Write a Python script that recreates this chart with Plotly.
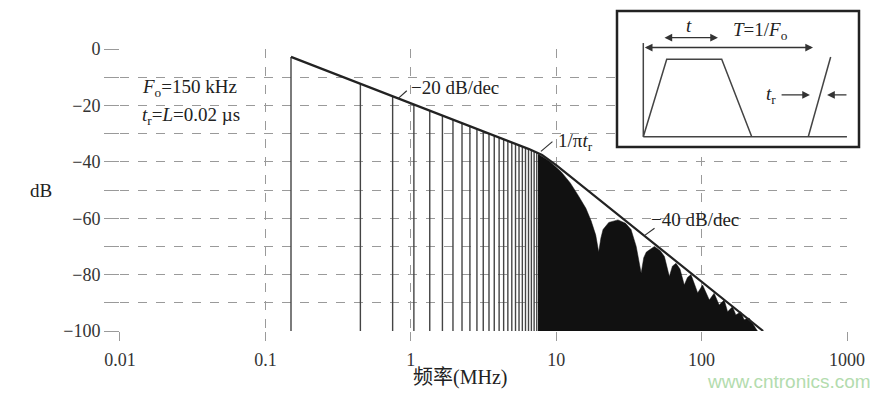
import math
import plotly.graph_objects as go

# ---------------- data ----------------
# discrete odd harmonics of the 150 kHz trapezoid (MHz) and their levels (dB)
harmonic_freq_mhz = [0.15, 0.45, 0.75, 1.05, 1.35, 1.65, 1.95, 2.25, 2.55, 2.85,
                     3.15, 3.45, 3.75, 4.05, 4.35, 4.65, 4.95, 5.25, 5.55, 5.85,
                     6.15, 6.45, 6.75, 7.05, 7.35]
harmonic_level_db = [-2.8, -12.3, -16.8, -19.7, -21.9, -23.6, -25.1, -26.3, -27.4, -28.4,
                     -29.2, -30.0, -30.8, -31.4, -32.0, -32.6, -33.2, -33.7, -34.2, -34.6,
                     -35.1, -35.5, -35.9, -36.2, -36.6]

# upper edge of the dense (unresolved, black) harmonic region above ~7.5 MHz
dense_freq_mhz = [7.5, 9.0, 10.8, 12.5, 14.2, 16.0, 17.4, 18.7, 19.6, 20.3, 21.0, 23.0,
                  26.6, 30.0, 32.7, 35.5, 38.4, 40.0, 41.7, 47.4, 52.0, 55.5, 60.0, 63.0,
                  66.7, 71.0, 76.0, 80.0, 84.5, 94.0, 101.6, 113.0, 122.0, 132.0, 143.0,
                  151.0, 163.0, 172.0, 186.0, 196.0, 212.0, 231.0, 242.0]
dense_level_db = [-37.2, -39.8, -43.5, -47.5, -52.0, -56.5, -61.0, -66.0, -72.0, -67.0, -64.0, -61.5,
                  -60.6, -61.8, -64.0, -70.0, -79.5, -74.0, -72.0, -70.0, -71.5, -73.6, -80.7, -77.0,
                  -76.0, -78.0, -83.7, -81.0, -80.0, -86.5, -83.7, -89.0, -86.6, -90.8, -89.0,
                  -93.2, -91.4, -94.3, -93.2, -96.0, -95.4, -98.5, -100.0]

# -20 dB/dec and -40 dB/dec bounding envelope
bound_freq_mhz = [0.15, 6.5, 8.0, 10.0, 265.0]
bound_level_db = [-2.8, -35.5, -37.6, -41.2, -100.0]
floor_db = -100

# axis ticks
x_tick_vals = [0.01, 0.1, 1, 10, 100, 1000]
x_tick_text = ["0.01", "0.1", "1", "10", "100", "1000"]
y_tick_vals = [0, -10, -20, -30, -40, -50, -60, -70, -80, -90, -100]
y_tick_text = ["0", "", "\u221220", "", "\u221240", "", "\u221260", "", "\u221280", "", "\u2212100"]

# inset waveform (time in periods T, level normalised)
inset_pulse_t = [0.0, 0.138, 0.462, 0.639]
inset_pulse_v = [0.0, 1.0, 1.0, 0.0]
inset_edge_t = [0.972, 1.104]
inset_edge_v = [0.0, 1.03]
inset_base_t = [0.0, 1.2]
inset_base_v = [0.0, 0.0]
inset_mark_t = [0.0, 0.0]
inset_mark_v = [0.0, 1.21]

SERIF = "Liberation Serif, Noto Sans CJK SC, serif"
INK = "#222222"
GRID = "#9a9a9a"

fig = go.Figure()

# vertical harmonic lines
lx, ly = [], []
for f, h in zip(harmonic_freq_mhz, harmonic_level_db):
    lx += [f, f, None]
    ly += [floor_db, h, None]
fig.add_trace(go.Scatter(x=lx, y=ly, mode="lines",
                         line=dict(color="#444444", width=1.4),
                         hoverinfo="skip", showlegend=False))

# dense black region
fig.add_trace(go.Scatter(x=dense_freq_mhz + [dense_freq_mhz[0]],
                         y=dense_level_db + [floor_db],
                         mode="lines", fill="toself", fillcolor="#111111",
                         line=dict(color="#111111", width=0.5),
                         hoverinfo="skip", showlegend=False))

# bounding envelope line
fig.add_trace(go.Scatter(x=bound_freq_mhz, y=bound_level_db, mode="lines",
                         line=dict(color=INK, width=2.2),
                         hoverinfo="skip", showlegend=False))

# ---------------- inset (second subplot) ----------------
inset_x_range = [-0.155, 1.271]
inset_y_range = [-0.133, 1.624]
fig.add_trace(go.Scatter(x=[inset_x_range[0], inset_x_range[1], inset_x_range[1], inset_x_range[0], inset_x_range[0]],
                         y=[inset_y_range[0], inset_y_range[0], inset_y_range[1], inset_y_range[1], inset_y_range[0]],
                         mode="lines", fill="toself", fillcolor="white",
                         line=dict(color="white", width=0),
                         xaxis="x2", yaxis="y2", hoverinfo="skip", showlegend=False))
for tx, ty in [(inset_base_t, inset_base_v), (inset_mark_t, inset_mark_v),
               (inset_pulse_t, inset_pulse_v), (inset_edge_t, inset_edge_v)]:
    fig.add_trace(go.Scatter(x=tx, y=ty, mode="lines",
                             line=dict(color="#444444", width=1.5),
                             xaxis="x2", yaxis="y2", hoverinfo="skip", showlegend=False))

fig.add_shape(type="rect", xref="x2 domain", yref="y2 domain", x0=0, x1=1, y0=0, y1=1,
              line=dict(color=INK, width=2.5), fillcolor="rgba(0,0,0,0)", layer="above")

annotations = []


def arrow(x_head, y_head, x_tail, y_tail, both=False):
    annotations.append(dict(xref="x2", yref="y2", axref="x2", ayref="y2",
                            x=x_head, y=y_head, ax=x_tail, ay=y_tail, text="",
                            showarrow=True, arrowhead=2, arrowsize=1.1, arrowwidth=1.4,
                            arrowcolor="#333333",
                            arrowside="end+start" if both else "end"))


arrow(1.0, 1.152, 0.0, 1.152, both=True)
arrow(0.44, 1.28, 0.116, 1.28, both=True)
arrow(0.982, 0.54, 0.806, 0.54)
arrow(1.083, 0.54, 1.206, 0.54)

inset_font = dict(family=SERIF, size=19, color=INK)
annotations += [
    dict(xref="x2", yref="y2", x=0.27, y=1.44, text="<i>t</i>", showarrow=False, font=inset_font),
    dict(xref="x2", yref="y2", x=0.688, y=1.37, text="<i>T</i>=1/<i>F</i><sub>o</sub>",
         showarrow=False, font=inset_font),
    dict(xref="x2", yref="y2", x=0.755, y=0.54, text="<i>t</i><sub>r</sub>",
         showarrow=False, font=inset_font),
]

# ---------------- main annotations ----------------
txt_font = dict(family=SERIF, size=19, color=INK)


def lg(v):
    return math.log10(v)


annotations += [
    dict(xref="x", yref="y", x=-1.862, y=-13.8, xanchor="left",
         text="<i>F</i><sub>o</sub>=150 kHz", showarrow=False, font=txt_font),
    dict(xref="x", yref="y", x=-1.862, y=-23.8, xanchor="left",
         text="<i>t</i><sub>r</sub>=<i>L</i>=0.02 \u00b5s", showarrow=False, font=txt_font),
    dict(xref="x", yref="y", x=-0.01, y=-13.6, xanchor="left",
         text="\u221220 dB/dec", showarrow=False, font=txt_font),
    dict(xref="x", yref="y", x=1.0, y=-33.0, xanchor="left",
         text="1/\u03c0<i>t</i><sub>r</sub>", showarrow=False, font=txt_font),
    dict(xref="x", yref="y", x=1.64, y=-60.6, xanchor="left",
         text="\u221240 dB/dec", showarrow=False, font=txt_font),
    # leader ticks
    dict(xref="x", yref="y", x=lg(0.82), y=-17.5, ax=10, ay=-9, text="",
         showarrow=True, arrowhead=0, arrowwidth=1.2, arrowcolor="#333333"),
    dict(xref="x", yref="y", x=0.895, y=-36.3, ax=13, ay=-11, text="",
         showarrow=True, arrowhead=0, arrowwidth=1.2, arrowcolor="#333333"),
    dict(xref="x", yref="y", x=1.611, y=-66.0, ax=11, ay=-8, text="",
         showarrow=True, arrowhead=0, arrowwidth=1.2, arrowcolor="#333333"),
    # axis titles
    dict(xref="paper", yref="paper", x=-0.0766, y=0.4365, xanchor="center", yanchor="middle",
         text="dB", showarrow=False, font=dict(family=SERIF, size=19, color=INK)),
    dict(xref="paper", yref="paper", x=0.4675, y=-0.1455, xanchor="center", yanchor="middle",
         text="频率(MHz)", showarrow=False, font=dict(family=SERIF, size=20, color=INK)),
    dict(xref="paper", yref="paper", x=0.8948, y=-0.1548, xanchor="center", yanchor="middle",
         text="www.cntronics.com", showarrow=False,
         font=dict(family="Liberation Sans, Arial, sans-serif", size=19, color="#b3dcae")),
]

fig.update_layout(
    width=890, height=397,
    margin=dict(l=92, r=28, t=0, b=74),
    paper_bgcolor="white", plot_bgcolor="white",
    showlegend=False,
    xaxis=dict(type="log", range=[-2, 3], domain=[0.025974, 0.970130], automargin=False,
               tickmode="array", tickvals=x_tick_vals, ticktext=x_tick_text,
               showgrid=True, gridcolor=GRID, griddash="dash", gridwidth=1,
               ticks="outside", ticklen=9, tickcolor=GRID, ticklabelstandoff=3,
               showline=False, zeroline=False,
               tickfont=dict(family=SERIF, size=18, color="#333333")),
    yaxis=dict(range=[-100, 0], domain=[0, 0.873065], automargin=False,
               tickmode="array", tickvals=y_tick_vals, ticktext=y_tick_text,
               showgrid=True, gridcolor=GRID, griddash="dash", gridwidth=1,
               ticks="outside", ticklen=15, tickcolor=GRID,
               showline=False, zeroline=False,
               tickfont=dict(family=SERIF, size=18, color="#333333")),
    xaxis2=dict(domain=[0.671429, 0.985714], range=inset_x_range, visible=False,
                anchor="y2", fixedrange=True, automargin=False),
    yaxis2=dict(domain=[0.569659, 0.990712], range=inset_y_range, visible=False,
                anchor="x2", fixedrange=True, automargin=False),
    annotations=annotations,
)

fig.write_html("out.html")
